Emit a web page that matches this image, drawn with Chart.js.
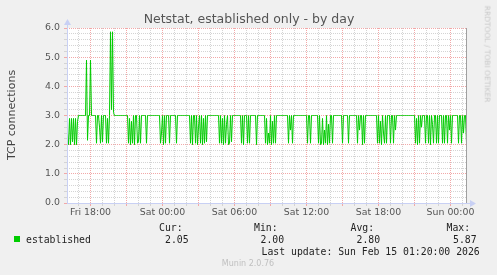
<!DOCTYPE html>
<html><head><meta charset="utf-8">
<script src="https://cdn.jsdelivr.net/npm/chart.js@4"></script>
<style>
html,body{margin:0;padding:0;background:#f0f0f0;}
#wrap{position:relative;width:497px;height:275px;overflow:hidden;background:#f0f0f0;}
canvas{position:absolute;left:0;top:0;}
.t{position:absolute;white-space:nowrap;line-height:1;}
.m{font-family:'DejaVu Sans Mono';font-size:9.8px;color:#222;transform:translateY(-50%);}
</style></head><body>
<div id="wrap">
<canvas id="c" width="497" height="275"></canvas>
<div class="t" style="left:249px;top:19px;transform:translate(-50%,-50%);font-family:'DejaVu Sans';font-size:12.5px;color:#555">Netstat, established only - by day</div>
<div class="t" style="left:11px;top:115px;transform:translate(-50%,-50%) rotate(-90deg);font-family:'DejaVu Sans';font-size:11px;color:#444">TCP connections</div>
<div class="t" style="left:487px;top:54px;transform:translate(-50%,-50%) rotate(90deg);font-family:'DejaVu Sans';font-size:7.5px;color:#c8c8c8">RRDTOOL / TOBI OETIKER</div>
<div class="t" style="left:14px;top:236px;width:6px;height:6px;background:#00cc00"></div>
<div class="t m" style="left:26px;top:239.5px">established</div>
<div class="t m" style="left:159px;top:227.5px">Cur:</div>
<div class="t m" style="left:254px;top:227.5px">Min:</div>
<div class="t m" style="left:350.5px;top:227.5px">Avg:</div>
<div class="t m" style="left:446.5px;top:227.5px">Max:</div>
<div class="t m" id="vcur" style="left:165px;top:239.5px"></div>
<div class="t m" id="vmin" style="left:260.5px;top:239.5px"></div>
<div class="t m" id="vavg" style="left:356.5px;top:239.5px"></div>
<div class="t m" id="vmax" style="left:453px;top:239.5px"></div>
<div class="t m" style="left:261.5px;top:251.7px">Last update: Sun Feb 15 01:20:00 2026</div>
<div class="t" style="left:248px;top:264px;transform:translate(-50%,-50%);font-family:'DejaVu Sans';font-size:8px;color:#c0c0c0">Munin 2.0.76</div>
</div>
<script>
// 5-minute samples, Fri 16:05 .. Sun 01:20
const established = [
  2.4,2.0,2.9,2.0,2.9,2.1,2.9,2.0,2.9,2.0,2.8,3,3,3,3,3,3,3,3,4.9,
  2.15,3,3,4.9,3,3,3,3,3,2.05,3,3,2.6,2.05,3,2.1,3,3,3,2.05,
  2.9,2.05,3,5.87,3.2,5.87,3.1,3,3,3,3,3,3,3,3,3,3,3,3,3,
  3,2.05,2.9,2.0,2.8,2.05,3,2.0,3,3,2.05,2.1,3,2.05,3,3,3,3,3,2.05,
  3,3,3,3,3,3,3,3,3,3,3,3,3,2.05,2.4,3,2.0,3,2.05,3,
  3,3,2.05,3,3,3,3,3,3,2.05,3,3,3,3,3,3,3,3,3,3,
  3,3,3,2.05,3,2.0,3,3,2.05,3,2.0,2.6,3,2.05,3,2.0,2.9,2.05,3,2.1,
  3,3,3,3,3,3,3,3,3,3,3,3,2.05,3,2.05,2.9,2.0,3,2.05,2.7,
  3,2.0,2.05,3,2.1,3,3,3,3,3,3,3,3,3,2.05,3,2.0,3,3,3,
  2.05,3,2.05,3,3,3,3,3,3,2.0,3,3,3,3,3,3,3,3,2.05,2.9,
  2.0,2.4,2.05,3,2.0,2.8,2.05,3,2.05,3,3,3,3,3,3,3,3,3,3,3,
  3,2.05,3,2.5,3,2.05,3,3,3,3,3,3,3,3,3,3,3,3,3,3,
  2.05,3,3,2.05,3,3,3,3,3,3,3,2.05,3,2.0,2.05,2.9,2.0,2.5,2.05,3,
  2.0,2.7,2.05,3,3,2.05,3,3,3,3,3,3,3,3,3,2.05,3,3,3,3,
  3,2.05,3,3,3,3,3,3,3,3,2.05,3,2.5,3,3,2.0,3,2.05,3,3,
  3,3,3,3,3,3,3,3,3,3,2.05,3,2.05,2.8,2.0,3,2.4,2.05,3,2.05,
  3,3,3,2.05,3,3,2.05,3,2.5,3,3,3,3,3,3,3,3,3,3,3,
  3,3,3,3,3,3,3,3,2.05,2.9,2.0,3,2.05,3,2.6,3,3,3,2.05,3,
  3,2.05,3,2.0,3,2.7,2.05,3,3,2.05,3,2.05,3,3,3,2.05,3,2.05,3,3,
  2.05,3,2.5,3,2.05,3,3,3,3,3,3,2.05,3,3,2.05,3,2.4,3,3,2.05
];
const startHour = 16 + 5/60;      // Fri 16:05 (hours since Fri 00:00)
const stepHours = 5/60;           // 5 minute step
const xMin = 16 + 2.5/60, xMax = 49 + 22.5/60;
const xTickHours = [18, 24, 30, 36, 42, 48];
const xTickLabels = ['Fri 18:00', 'Sat 00:00', 'Sat 06:00', 'Sat 12:00', 'Sat 18:00', 'Sun 00:00'];
const legendStats = {cur: '2.05', min: '2.00', avg: '2.80', max: '5.87'};

document.getElementById('vcur').textContent = legendStats.cur;
document.getElementById('vmin').textContent = legendStats.min;
document.getElementById('vavg').textContent = legendStats.avg;
document.getElementById('vmax').textContent = legendStats.max;

const MAJ = '#f2a8a8', MIN = '#d4d4d4', AXIS = '#c8d0f4';
const points = established.map((v, i) => ({x: startHour + i * stepHours, y: v}));

const deco = {
  id: 'deco',
  beforeDraw(chart) {
    const {ctx, chartArea: a} = chart;
    ctx.save(); ctx.fillStyle = '#ffffff';
    ctx.fillRect(a.left, a.top, a.right - a.left, a.bottom - a.top);
    ctx.restore();
  },
  afterDraw(chart) {
    const {ctx, chartArea: a} = chart;
    ctx.save();
    ctx.strokeStyle = '#a0a0a0'; ctx.lineWidth = 1;
    ctx.beginPath(); ctx.moveTo(a.right - 0.5, a.top); ctx.lineTo(a.right - 0.5, a.bottom); ctx.stroke();
    ctx.strokeStyle = AXIS;
    ctx.beginPath(); ctx.moveTo(a.left + 0.5, a.top - 6); ctx.lineTo(a.left + 0.5, a.bottom); ctx.stroke();
    ctx.beginPath(); ctx.moveTo(a.left, a.bottom + 0.5); ctx.lineTo(a.right + 6, a.bottom + 0.5); ctx.stroke();
    ctx.fillStyle = AXIS;
    ctx.beginPath(); ctx.moveTo(a.left + 0.5, a.top - 9); ctx.lineTo(a.left - 3, a.top - 3); ctx.lineTo(a.left + 4, a.top - 3); ctx.closePath(); ctx.fill();
    ctx.beginPath(); ctx.moveTo(a.right + 9, a.bottom + 0.5); ctx.lineTo(a.right + 3, a.bottom - 3); ctx.lineTo(a.right + 3, a.bottom + 4); ctx.closePath(); ctx.fill();
    ctx.restore();
  }
};

const isMajorX = v => Math.abs(v % 3) < 1e-6;
const isMajorY = v => Math.abs(v - Math.round(v)) < 1e-6;

new Chart(document.getElementById('c'), {
  type: 'line',
  data: { datasets: [{
    label: 'established', data: points, borderColor: '#00cc00', borderWidth: 1,
    pointRadius: 0, tension: 0, fill: false
  }]},
  options: {
    responsive: false, animation: false, devicePixelRatio: 1,
    layout: { padding: {top: 28, right: 30, left: 0, bottom: 0} },
    plugins: { legend: {display: false}, tooltip: {enabled: false}, title: {display: false} },
    scales: {
      x: {
        type: 'linear', min: xMin, max: xMax, bounds: 'data',
        afterBuildTicks: s => { const t = []; for (let h = 17; h <= 49; h++) t.push({value: h}); s.ticks = t; },
        afterFit: s => { s.height = 72; },
        ticks: {
          autoSkip: false, maxRotation: 0, padding: 1,
          font: {family: 'DejaVu Sans', size: 9.4}, color: '#555',
          callback: v => { const k = xTickHours.indexOf(v); return k >= 0 ? xTickLabels[k] : ''; }
        },
        grid: {
          color: c => isMajorX(c.tick.value) ? MAJ : MIN,
          tickColor: c => isMajorX(c.tick.value) ? MAJ : MIN,
          tickLength: 3, lineWidth: 1
        },
        border: { display: false, dash: [1, 1] }
      },
      y: {
        type: 'linear', min: 0, max: 6,
        afterFit: s => { s.width = 67; },
        ticks: {
          stepSize: 0.2, maxTicksLimit: 1000, padding: 4, autoSkip: false,
          font: {family: 'DejaVu Sans', size: 9.4}, color: '#555',
          callback: v => isMajorY(v) ? Number(v).toFixed(1) : ''
        },
        grid: {
          color: c => isMajorY(c.tick.value) ? MAJ : MIN,
          tickColor: c => isMajorY(c.tick.value) ? MAJ : MIN,
          tickLength: 3, lineWidth: 1
        },
        border: { display: false, dash: [1, 1] }
      }
    }
  },
  plugins: [deco]
});
</script>
</body></html>
